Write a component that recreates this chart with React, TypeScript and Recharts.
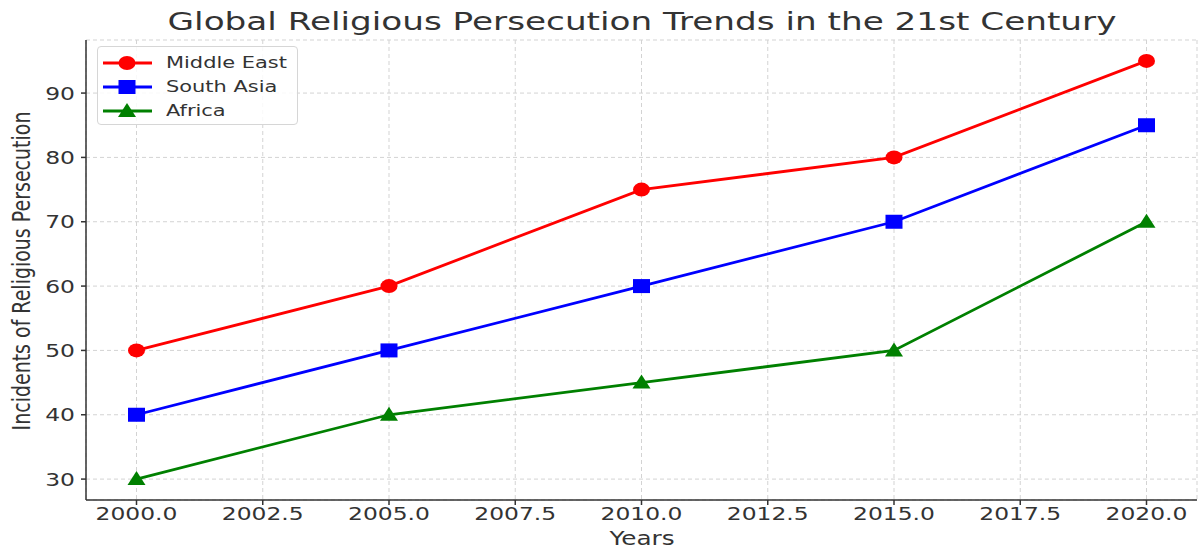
import React from "react";
import { LineChart, Line, XAxis, YAxis, CartesianGrid } from "recharts";

const years = [2000, 2005, 2010, 2015, 2020];
const middleEast = [50, 60, 75, 80, 95];
const southAsia = [40, 50, 60, 70, 85];
const africa = [30, 40, 45, 50, 70];
const xTicks = [2000, 2002.5, 2005, 2007.5, 2010, 2012.5, 2015, 2017.5, 2020];
const yTicks = [30, 40, 50, 60, 70, 80, 90];

const data = years.map((y, i) => ({
  year: y,
  middleEast: middleEast[i],
  southAsia: southAsia[i],
  africa: africa[i],
}));

const FONT = "DejaVu Sans, sans-serif";
const SX = 1.3; // the reference is stretched sideways

function Ellipse(props: any) {
  const { cx, cy } = props;
  if (cx == null || cy == null) return null;
  return <ellipse cx={cx} cy={cy} rx={8.5} ry={7} fill="#ff0000" />;
}

function Square(props: any) {
  const { cx, cy } = props;
  if (cx == null || cy == null) return null;
  return <rect x={cx - 8.5} y={cy - 7} width={17} height={14} fill="#0000ff" />;
}

function Triangle(props: any) {
  const { cx, cy } = props;
  if (cx == null || cy == null) return null;
  return (
    <polygon
      points={`${cx},${cy - 8} ${cx - 9},${cy + 6} ${cx + 9},${cy + 6}`}
      fill="#008000"
    />
  );
}

function XTick(props: any) {
  const { x, y, payload } = props;
  return (
    <text
      transform={`translate(${x},${y}) scale(${SX},1)`}
      textAnchor="middle"
      dy="0.72em"
      fontFamily={FONT}
      fontSize={18}
      fill="#333"
    >
      {Number(payload.value).toFixed(1)}
    </text>
  );
}

function YTick(props: any) {
  const { x, y, payload } = props;
  return (
    <text
      transform={`translate(${x},${y}) scale(${SX},1)`}
      textAnchor="end"
      dy="0.36em"
      fontFamily={FONT}
      fontSize={18}
      fill="#333"
    >
      {payload.value}
    </text>
  );
}

const legendItems = [
  { name: "Middle East", color: "#ff0000", shape: "circle" },
  { name: "South Asia", color: "#0000ff", shape: "square" },
  { name: "Africa", color: "#008000", shape: "triangle" },
];

function LegendBox() {
  return (
    <div
      style={{
        position: "absolute",
        left: 97,
        top: 46,
        width: 201,
        height: 79,
        border: "1px solid #d6d6d6",
        borderRadius: 4,
        background: "rgba(255,255,255,0.85)",
        boxSizing: "border-box",
        paddingTop: 4,
        fontFamily: FONT,
        fontSize: 15.5,
        color: "#333",
      }}
    >
      {legendItems.map((it) => (
        <div key={it.name} style={{ display: "flex", alignItems: "center", height: 24 }}>
          <svg width={60} height={20} style={{ marginLeft: 3 }}>
            <line x1={2} y1={10} x2={51} y2={10} stroke={it.color} strokeWidth={2.8} />
            {it.shape === "circle" && <ellipse cx={26} cy={10} rx={8.5} ry={7} fill={it.color} />}
            {it.shape === "square" && <rect x={17.5} y={3} width={17} height={14} fill={it.color} />}
            {it.shape === "triangle" && <polygon points="26,2 17,16 35,16" fill={it.color} />}
          </svg>
          <span
            style={{
              display: "inline-block",
              marginLeft: 5,
              transform: `scaleX(${SX + 0.05})`,
              transformOrigin: "left center",
              whiteSpace: "nowrap",
            }}
          >
            {it.name}
          </span>
        </div>
      ))}
    </div>
  );
}

export default function App() {
  return (
    <div style={{ position: "absolute", left: 0, top: 0, width: 1199, height: 549, background: "#fff" }}>
      <LineChart
        width={1199}
        height={549}
        data={data}
        margin={{ top: 40, right: 2, bottom: 19, left: 0 }}
      >
        <text
          transform={`translate(642,30) scale(1.37,1)`}
          textAnchor="middle"
          fontFamily={FONT}
          fontSize={25}
          fill="#333"
        >
          Global Religious Persecution Trends in the 21st Century
        </text>
        <text
          transform="translate(30,271) rotate(-90) scale(0.775,1)"
          textAnchor="middle"
          fontFamily={FONT}
          fontSize={24.5}
          fill="#333"
        >
          Incidents of Religious Persecution
        </text>
        <text
          transform={`translate(642,545) scale(${SX},1)`}
          textAnchor="middle"
          fontFamily={FONT}
          fontSize={19}
          fill="#333"
        >
          Years
        </text>
        <CartesianGrid stroke="#d3d3d3" strokeDasharray="4 3" />
        <XAxis
          dataKey="year"
          type="number"
          domain={[1999, 2021]}
          ticks={xTicks}
          tick={<XTick />}
          height={30}
          stroke="#333"
          strokeWidth={1.5}
          tickSize={5}
          tickMargin={2}
          interval={0}
        />
        <YAxis
          type="number"
          domain={[26.75, 98.25]}
          ticks={yTicks}
          width={86}
          tick={<YTick />}
          stroke="#333"
          strokeWidth={1.5}
          tickSize={5}
          tickMargin={6}
          interval={0}
        />
        <Line
          dataKey="middleEast"
          name="Middle East"
          stroke="#ff0000"
          strokeWidth={2.8}
          dot={<Ellipse />}
          isAnimationActive={false}
        />
        <Line
          dataKey="southAsia"
          name="South Asia"
          stroke="#0000ff"
          strokeWidth={2.8}
          dot={<Square />}
          isAnimationActive={false}
        />
        <Line
          dataKey="africa"
          name="Africa"
          stroke="#008000"
          strokeWidth={2.8}
          dot={<Triangle />}
          isAnimationActive={false}
        />
      </LineChart>
      <LegendBox />
    </div>
  );
}
